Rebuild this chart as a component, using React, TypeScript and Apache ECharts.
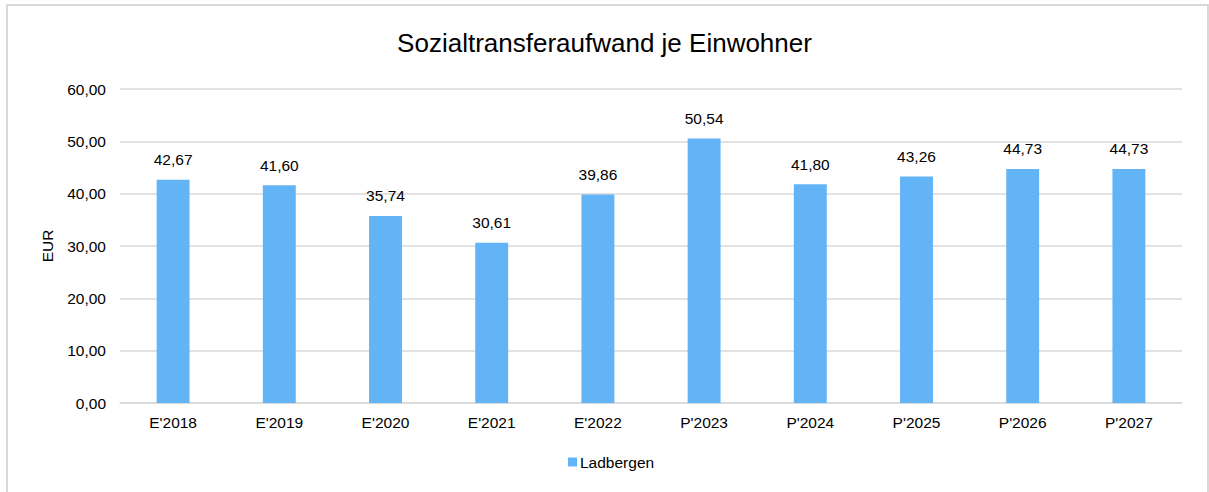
import React, { useEffect, useRef } from "react";
import * as echarts from "echarts";

const categories = ["E'2018", "E'2019", "E'2020", "E'2021", "E'2022", "P'2023", "P'2024", "P'2025", "P'2026", "P'2027"];
const values = [42.67, 41.6, 35.74, 30.61, 39.86, 50.54, 41.8, 43.26, 44.73, 44.73];
const seriesName = "Ladbergen";
const titleText = "Sozialtransferaufwand je Einwohner";
const yAxisName = "EUR";

const fmt = (v: number) => v.toFixed(2).replace(".", ",");

export default function App() {
  const ref = useRef<HTMLDivElement>(null);
  useEffect(() => {
    const chart = echarts.init(ref.current!, null, { renderer: "svg" });
    const font = "'Liberation Sans', Arial, sans-serif";
    const fs = 15.5;
    chart.setOption({
      animation: false,
      backgroundColor: "#ffffff",
      textStyle: { fontFamily: font },
      title: {
        text: titleText,
        left: "center",
        top: 25,
        textStyle: { fontSize: 26, fontWeight: "normal", color: "#000", fontFamily: font },
      },
      graphic: [
        {
          type: "rect",
          shape: { x: 7, y: 5, width: 1201, height: 500 },
          style: { fill: "none", stroke: "#d9d9d9", lineWidth: 2 },
          silent: true,
        },
      ],
      legend: {
        bottom: 17,
        left: 563,
        itemWidth: 9,
        itemHeight: 9,
        itemGap: 4,
        icon: "rect",
        textStyle: { fontSize: fs, color: "#000", fontFamily: font, padding: [0, 0, 0, -2] },
        data: [seriesName],
      },
      grid: { left: 120, right: 27, top: 89, bottom: 89, containLabel: false },
      xAxis: {
        type: "category",
        data: categories,
        axisLine: { lineStyle: { color: "#d9d9d9", width: 1.5 } },
        axisTick: { show: false },
        axisLabel: { fontSize: fs, color: "#000", margin: 11, fontFamily: font },
      },
      yAxis: {
        type: "value",
        min: 0,
        max: 60,
        interval: 10,
        name: yAxisName,
        nameLocation: "middle",
        nameGap: 65,
        nameTextStyle: { fontSize: fs, color: "#000", fontFamily: font },
        axisLine: { show: false },
        axisTick: { show: false },
        axisLabel: { fontSize: fs, color: "#000", margin: 14, formatter: (v: number) => fmt(v), fontFamily: font },
        splitLine: { lineStyle: { color: "#d9d9d9", width: 1.5 } },
      },
      series: [
        {
          name: seriesName,
          type: "bar",
          data: values,
          barWidth: "31%",
          itemStyle: { color: "#63b4f6" },
          label: {
            show: true,
            position: "top",
            distance: 12,
            fontSize: fs,
            color: "#000",
            fontFamily: font,
            formatter: (p: any) => fmt(p.value),
          },
        },
      ],
    });
    return () => chart.dispose();
  }, []);
  return <div ref={ref} style={{ position: "fixed", left: 0, top: 0, width: 1209, height: 492 }} />;
}
